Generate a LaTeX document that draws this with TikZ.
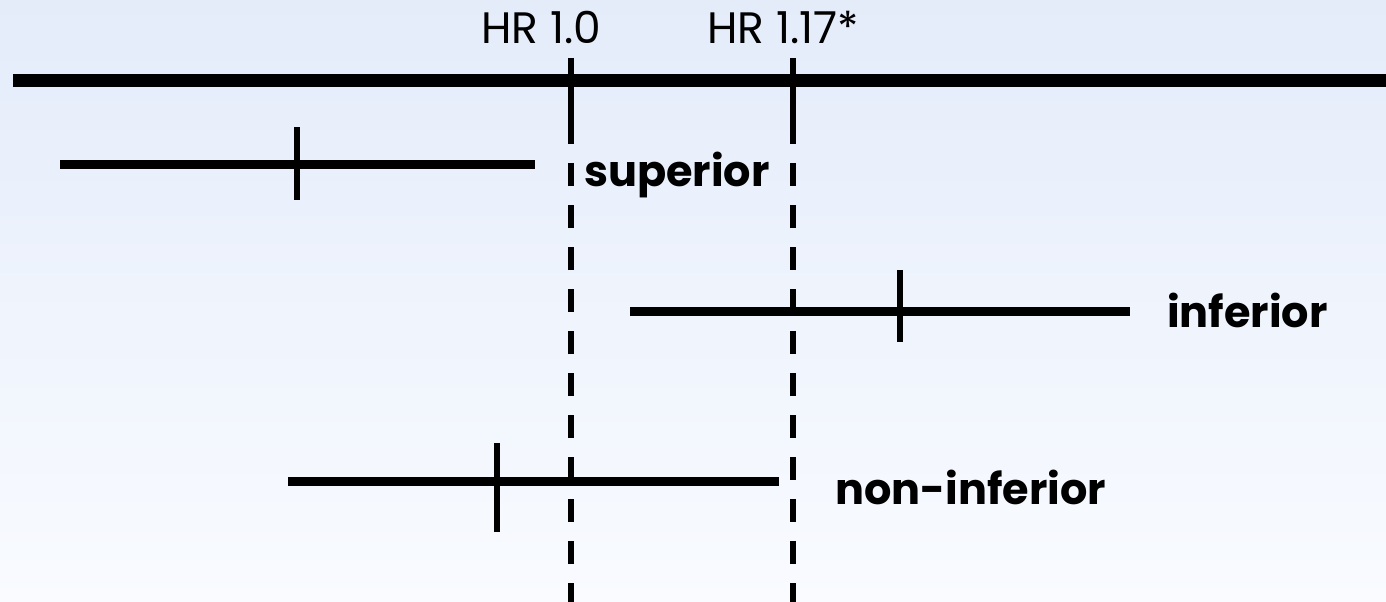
\documentclass[tikz,border=0pt]{standalone}
\usepackage{fontspec}
\setmainfont{Poppins}
\definecolor{bgtop}{RGB}{228,236,250}
\definecolor{bgbot}{RGB}{249,251,255}
\tikzset{
  axisline/.style={line width=13pt},
  barline/.style={line width=9pt},
  tickline/.style={line width=6.5pt},
  refline/.style={line width=5.5pt, dash pattern=on 23pt off 19pt},
  hrlabel/.style={font=\fontsize{44}{52}\selectfont, inner sep=0pt},
  reslabel/.style={font=\fontsize{43}{50}\selectfont\bfseries, inner sep=0pt, anchor=west},
}
\begin{document}
\begin{tikzpicture}[x=1pt,y=-1pt]
\shade[top color=bgtop, bottom color=bgbot] (0,0) rectangle (1386,602);
\useasboundingbox (0,0) rectangle (1386,602);
% axis
\coordinate (axL) at (13,80.5);
\coordinate (axR) at (1386,80.5);
\draw[axisline] (axL) -- (axR);
% reference lines
\coordinate (r1t) at (571,58);
\coordinate (r1m) at (571,123);
\coordinate (r1d) at (571,121);
\coordinate (r1b) at (571,602);
\coordinate (r2t) at (793,58);
\coordinate (r2m) at (793,123);
\coordinate (r2d) at (793,121);
\coordinate (r2b) at (793,602);
\draw[tickline] (r1t) -- (r1m);
\draw[tickline] (r2t) -- (r2m);
\draw[refline] (r1d) -- (r1b);
\draw[refline] (r2d) -- (r2b);
\node[hrlabel] (hr1) at (541,27) {HR 1.0};
\node[hrlabel] (hr2) at (783,27) {HR 1.17*};
% superior
\coordinate (s1) at (60,164.5);
\coordinate (s2) at (535,164.5);
\coordinate (st) at (297,127);
\coordinate (sb) at (297,200);
\draw[barline] (s1) -- (s2);
\draw[tickline] (st) -- (sb);
\node[reslabel] (sup) at (584,175) {superior};
% inferior
\coordinate (i1) at (630,311);
\coordinate (i2) at (1130,311);
\coordinate (it) at (900,270);
\coordinate (ib) at (900,342);
\draw[barline] (i1) -- (i2);
\draw[tickline] (it) -- (ib);
\node[reslabel] (inf) at (1167,310) {inferior};
% non-inferior
\coordinate (n1) at (288,481);
\coordinate (n2) at (779,481);
\coordinate (nt) at (497,443);
\coordinate (nb) at (497,532);
\draw[barline] (n1) -- (n2);
\draw[tickline] (nt) -- (nb);
\node[reslabel] (noninf) at (835,487) {non-inferior};
\end{tikzpicture}
\end{document}
